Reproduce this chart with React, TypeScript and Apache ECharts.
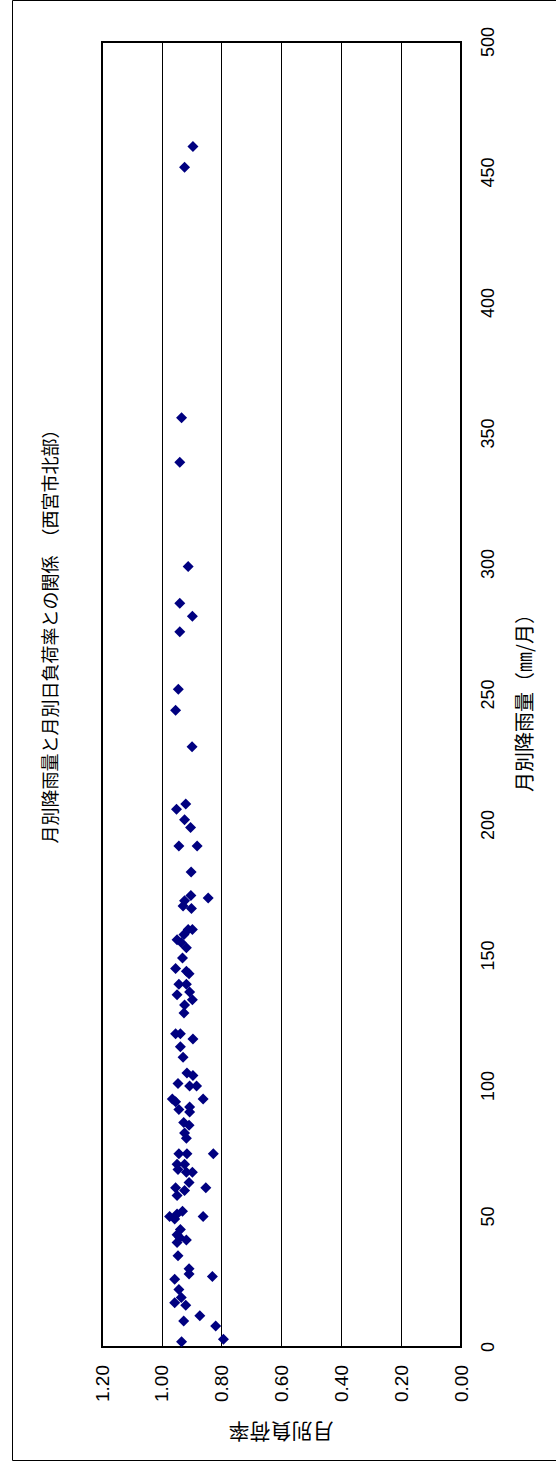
import React, { useEffect, useRef } from "react";
import * as echarts from "echarts";

const TITLE = "月別降雨量と月別日負荷率との関係　（西宮市北部）";
const X_NAME = "月別降雨量（㎜/月）";
const Y_NAME = "月別負荷率";

const rainfall = [
  452, 460, 356, 339, 299, 285, 280, 274, 252, 244, 230, 208, 206, 202, 199, 192, 192, 182, 173, 172,
  171, 169, 168, 160, 160, 158, 156, 155, 153, 149, 145, 144, 143, 139, 139, 136, 135, 133, 131, 128,
  120, 120, 118, 115, 111, 105, 104, 101, 100, 100, 95, 95, 94, 91, 92, 90, 86, 85, 82, 80,
  74, 74, 74, 70, 70, 67, 68, 67, 61, 61, 63, 58, 60, 50, 50, 51, 52, 49, 45, 43,
  41, 40, 42, 35, 30, 28, 27, 26, 22, 19, 17, 16, 12, 10, 8, 3, 2,
];
const loadRate = [
  0.924, 0.896, 0.934, 0.94, 0.912, 0.94, 0.898, 0.94, 0.945, 0.954, 0.899, 0.92, 0.951, 0.924, 0.904, 0.943, 0.882, 0.902, 0.903, 0.845,
  0.924, 0.929, 0.901, 0.912, 0.898, 0.926, 0.949, 0.935, 0.918, 0.931, 0.954, 0.918, 0.909, 0.943, 0.918, 0.907, 0.949, 0.898, 0.924, 0.926,
  0.954, 0.938, 0.896, 0.938, 0.929, 0.916, 0.896, 0.946, 0.907, 0.884, 0.862, 0.965, 0.954, 0.943, 0.907, 0.907, 0.927, 0.909, 0.924, 0.918,
  0.828, 0.943, 0.916, 0.949, 0.924, 0.898, 0.946, 0.918, 0.853, 0.954, 0.909, 0.949, 0.924, 0.862, 0.974, 0.949, 0.931, 0.957, 0.938, 0.949,
  0.918, 0.949, 0.94, 0.946, 0.909, 0.909, 0.831, 0.957, 0.943, 0.935, 0.957, 0.92, 0.873, 0.927, 0.82, 0.794, 0.934,
];

const FONT = "'Liberation Sans', Arial, 'Noto Sans CJK JP', sans-serif";
const CJK = "'Noto Sans CJK JP', sans-serif";

export default function App() {
  const ref = useRef<HTMLDivElement>(null);
  useEffect(() => {
    document.body.style.margin = "0";
    const chart = echarts.init(ref.current!, null, { renderer: "svg" });
    const points = rainfall.map((r, i) => [loadRate[i], r]);
    chart.setOption({
      animation: false,
      backgroundColor: "#ffffff",
      grid: {
        left: 102,
        right: 95,
        top: 42,
        bottom: 118,
        show: true,
        borderColor: "#000",
        borderWidth: 2,
        backgroundColor: "transparent",
      },
      xAxis: {
        type: "value",
        min: 0,
        max: 1.2,
        interval: 0.2,
        inverse: true,
        position: "bottom",
        axisLine: { show: false },
        axisTick: { show: false },
        splitLine: { show: true, lineStyle: { color: "#000", width: 1 } },
        axisLabel: {
          rotate: 90,
          margin: 18,
          fontSize: 19,
          color: "#000",
          fontFamily: FONT,
          formatter: (v: number) => v.toFixed(2),
        },
      },
      yAxis: {
        type: "value",
        min: 0,
        max: 500,
        interval: 50,
        position: "right",
        axisLine: { show: false },
        axisTick: { show: false },
        splitLine: { show: false },
        axisLabel: {
          rotate: 90,
          margin: 18,
          fontSize: 18,
          color: "#000",
          fontFamily: FONT,
        },
      },
      graphic: [
        {
          type: "rect",
          silent: true,
          shape: { x: 12.5, y: 0.5, width: 600, height: 1460 },
          style: { fill: "none", stroke: "#000", lineWidth: 1 },
        },
        {
          type: "text",
          x: 49,
          y: 632,
          rotation: Math.PI / 2,
          style: {
            text: TITLE,
            fontSize: 18,
            fontFamily: CJK,
            fill: "#000",
            align: "center",
            verticalAlign: "middle",
          },
        },
        {
          type: "text",
          x: 523,
          y: 698,
          rotation: Math.PI / 2,
          style: {
            text: X_NAME,
            fontSize: 20,
            fontFamily: CJK,
            fill: "#000",
            align: "center",
            verticalAlign: "middle",
          },
        },
        {
          type: "text",
          x: 281,
          y: 1433,
          rotation: Math.PI,
          style: {
            text: Y_NAME,
            fontSize: 21,
            fontFamily: CJK,
            fill: "#000",
            align: "center",
            verticalAlign: "middle",
          },
        },
      ],
      series: [
        {
          type: "scatter",
          symbol: "diamond",
          symbolSize: 11,
          itemStyle: { color: "#000080", opacity: 1 },
          data: points,
        },
      ],
    });
    return () => chart.dispose();
  }, []);
  return (
    <div
      ref={ref}
      style={{ position: "absolute", left: 0, top: 0, width: 556, height: 1465 }}
    />
  );
}
